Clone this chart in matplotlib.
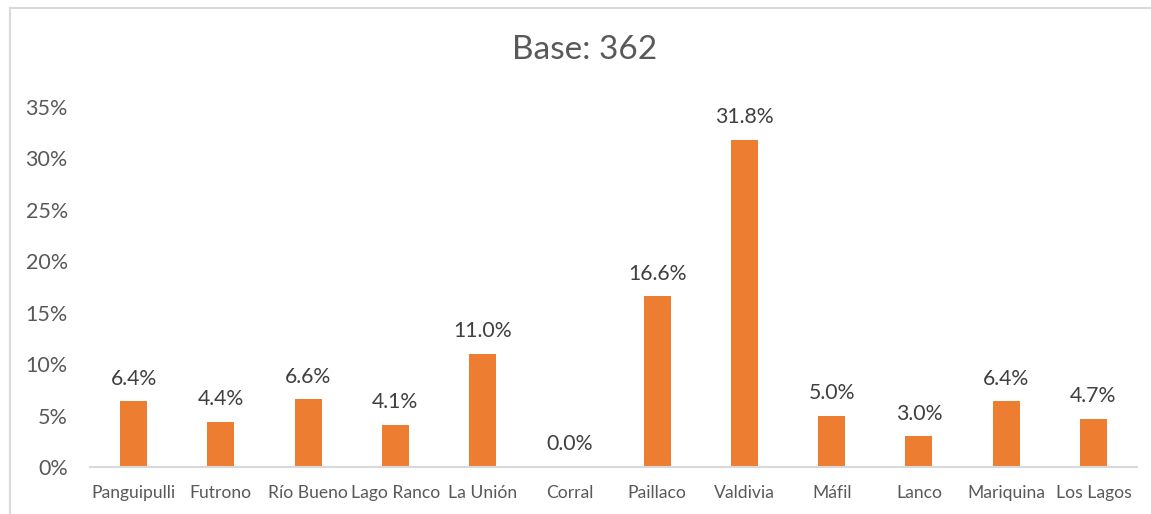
import matplotlib
matplotlib.use("Agg")
import matplotlib.pyplot as plt
from matplotlib.lines import Line2D

categories = ["Panguipulli", "Futrono", "Río Bueno", "Lago Ranco", "La Unión", "Corral",
              "Paillaco", "Valdivia", "Máfil", "Lanco", "Mariquina", "Los Lagos"]
values = [6.4, 4.4, 6.6, 4.1, 11.0, 0.0, 16.6, 31.8, 5.0, 3.0, 6.4, 4.7]
yticks = [0, 5, 10, 15, 20, 25, 30, 35]
title = "Base: 362"

plt.rcParams['font.family'] = ['Lato', 'DejaVu Sans']
W, H = 1151, 514
fig = plt.figure(figsize=(W / 100, H / 100), dpi=100)
ax = fig.add_axes([90 / W, 47 / H, (1137 - 90) / W, (467 - 107) / H])

x = list(range(len(categories)))
ax.bar(x, values, width=0.31, color="#ED7D31", zorder=2)
for xi, v in zip(x, values):
    ax.annotate(f"{v:.1f}%", (xi, v), xytext=(0, 9), textcoords="offset points",
                ha="center", va="bottom", fontsize=15.3, color="#404040")

ax.set_xlim(-0.5, len(categories) - 0.5)
ax.set_ylim(0, 35)
ax.set_yticks(yticks)
ax.set_yticklabels([f"{t}%" for t in yticks], fontsize=15.5, color="#595959")
ax.set_xticks(x)
ax.set_xticklabels(categories, fontsize=12.6, color="#595959")
ax.tick_params(axis="both", length=0)
ax.tick_params(axis="y", pad=16)
ax.tick_params(axis="x", pad=13)
for s in ["top", "right", "left"]:
    ax.spines[s].set_visible(False)
ax.spines["bottom"].set_color("#D9D9D9")
ax.spines["bottom"].set_linewidth(1.5)

fig.text(585 / W, 1 - 50 / H, title, ha="center", va="center", fontsize=24, color="#595959")

# chart frame lines
fig.add_artist(Line2D([10 / W, 1], [1 - 8 / H, 1 - 8 / H], color="#D9D9D9", lw=1.5, transform=fig.transFigure))
fig.add_artist(Line2D([10 / W, 10 / W], [0, 1 - 8 / H], color="#D9D9D9", lw=1.5, transform=fig.transFigure))

fig.savefig("out.png", dpi=100)
